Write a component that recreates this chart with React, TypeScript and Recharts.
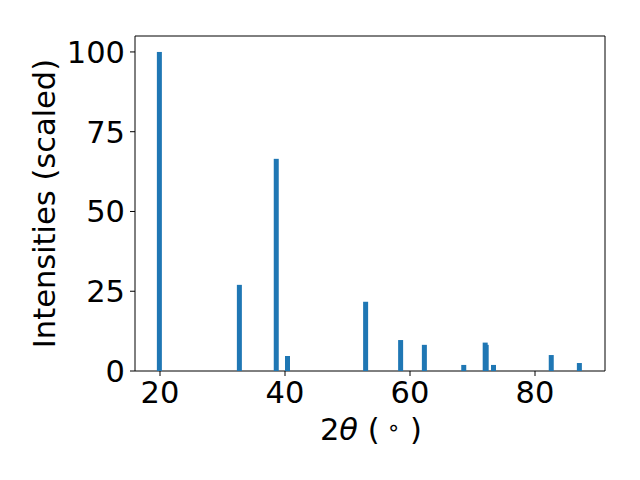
import { BarChart, Bar, XAxis, YAxis, ReferenceArea, Label } from 'recharts'

// peak positions (2θ, degrees) and scaled intensities
const twoTheta = [19.9, 32.7, 38.6, 40.4, 52.9, 58.5, 62.3, 68.6, 72.03, 72.19, 73.36, 82.6, 87.1]
const intensity = [100, 27.0, 66.5, 4.7, 21.7, 9.7, 8.2, 1.9, 8.9, 8.2, 1.9, 5.0, 2.5]
const xTicks = [20, 40, 60, 80]
const yTicks = [0, 25, 50, 75, 100]

const data = twoTheta.map((t, i) => ({ twoTheta: t, intensity: intensity[i] }))

const FONT = 'DejaVu Sans'
const FS = 30.5
const BLUE = '#1f77b4'
const BAR_W = 5

// recharts squeezes bars on a number axis to the smallest gap, so draw them at a fixed width
const PeakBar = (props: any) => {
  const { x, y, width, height } = props
  if (!height || height <= 0) return null
  const cx = x + width / 2
  return <rect x={cx - BAR_W / 2} y={y} width={BAR_W} height={height} fill={BLUE} />
}

const YTitle = () => (
  <text
    x={55}
    y={203.5}
    transform="rotate(-90 55 203.5)"
    textAnchor="middle"
    fontFamily={FONT}
    fontSize={FS}
    fill="#000"
  >
    Intensities (scaled)
  </text>
)

const XTitle = () => (
  <text x={371} y={440} textAnchor="middle" fontFamily={FONT} fontSize={FS} fill="#000">
    2<tspan fontStyle="italic">θ</tspan> (<tspan dx={7} dy={-5} fontSize={22}>∘</tspan>
    <tspan dy={5}> )</tspan>
  </text>
)

export default function App() {
  return (
    <div style={{ position: 'absolute', left: 0, top: 0, width: 640, height: 480, background: '#fff' }}>
      <BarChart
        width={640}
        height={480}
        data={data}
        margin={{ top: 36, right: 35, left: 35, bottom: 69 }}
      >
        <XAxis
          dataKey="twoTheta"
          type="number"
          domain={[16, 91.2]}
          allowDataOverflow
          ticks={xTicks}
          height={40}
          axisLine={false}
          tickLine={{ stroke: '#000' }}
          tickSize={5}
          tickMargin={5}
          tick={{ fill: '#000', fontFamily: FONT, fontSize: FS }}
        >
          <Label content={XTitle} />
        </XAxis>
        <YAxis
          type="number"
          domain={[0, 105]}
          allowDataOverflow
          ticks={yTicks}
          width={100}
          axisLine={false}
          tickLine={{ stroke: '#000' }}
          tickSize={5}
          tickMargin={5}
          tick={{ fill: '#000', fontFamily: FONT, fontSize: FS }}
        >
          <Label content={YTitle} />
        </YAxis>
        <Bar dataKey="intensity" fill={BLUE} shape={PeakBar} isAnimationActive={false} />
        <ReferenceArea x1={16} x2={91.2} y1={0} y2={105} fill="none" stroke="#000" strokeWidth={1} />
      </BarChart>
    </div>
  )
}
